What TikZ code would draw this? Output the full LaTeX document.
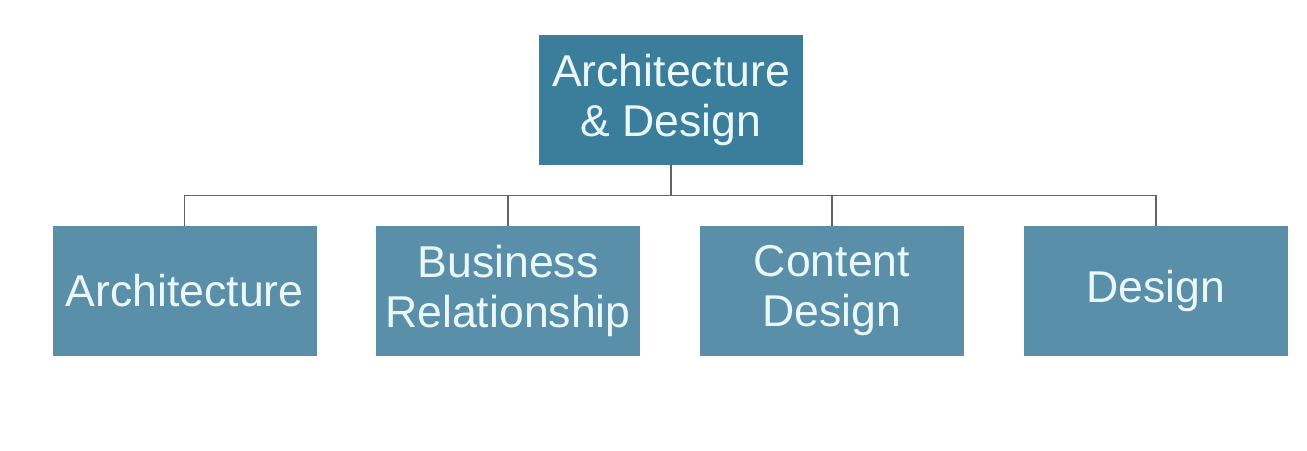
\documentclass[tikz,border=0pt]{standalone}
\usepackage{fontspec}
\setmainfont{Liberation Sans}
\usetikzlibrary{positioning,calc}
\definecolor{topblue}{HTML}{3B7E9B}
\definecolor{subblue}{HTML}{5A8FA9}
\definecolor{boxtext}{HTML}{EAF7FB}
\definecolor{linegray}{HTML}{5F6467}

\begin{document}
\begin{tikzpicture}[x=0.5pt,y=-0.5pt,
	box/.style={fill=#1, minimum width=132pt, minimum height=65pt, inner sep=0pt,
		text=boxtext, align=center, font=\fontsize{22.3}{25}\selectfont},
	conn/.style={draw=linegray, line width=0.9pt}]
	\useasboundingbox (0,0) rectangle (1307,450);
	% top box
	\node[box=topblue] (ad) at (671,100) {Architecture\\\& Design};
	% second row
	\node[box=subblue] (arch) at (184.5,291) {Architecture};
	\node[box=subblue] (busrel) at (508,291) {Business\\Relationship};
	\node[box=subblue] (content) at (832,291) {Content\\Design};
	\node[box=subblue] (design) at (1156,291) {Design};
	% connectors
	\coordinate (bar) at (671,195.5);
	\draw[conn] (ad.south) -- (ad.south |- bar);
	\draw[conn] (arch.north) -- (arch.north |- bar) -- (design.north |- bar) -- (design.north);
	\draw[conn] (busrel.north) -- (busrel.north |- bar);
	\draw[conn] (content.north) -- (content.north |- bar);
\end{tikzpicture}
\end{document}
